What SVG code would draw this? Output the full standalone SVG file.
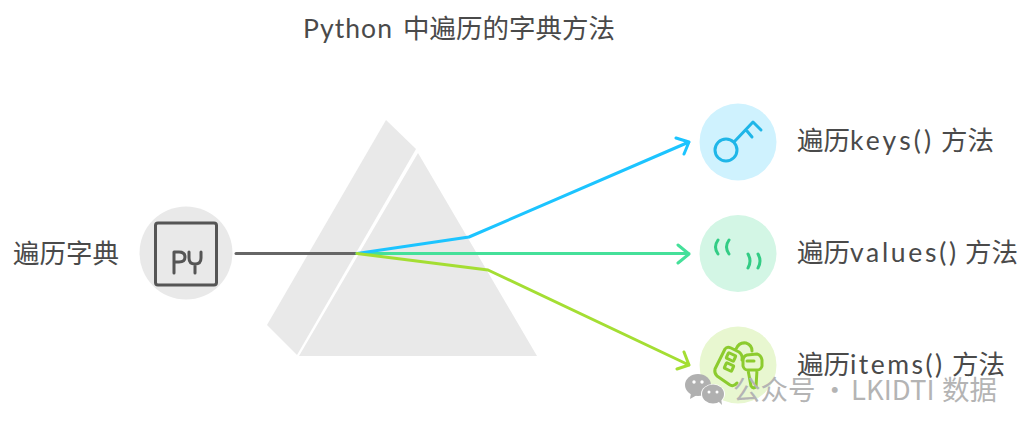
<svg xmlns="http://www.w3.org/2000/svg" width="1029" height="431" viewBox="0 0 1029 431">
<style>
text{font-family:"Noto Sans CJK SC","Noto Sans",sans-serif;font-size:26.500px;fill:#4a4a4a}
.l{font-family:"Lato","Noto Sans CJK SC",sans-serif}
.c{fill:none;stroke-width:3;stroke-linecap:round;stroke-linejoin:round}
.i{fill:none;stroke-width:3;stroke-linecap:round;stroke-linejoin:round}
.wm{fill:#b0b0b0}
text.wt,.wt tspan{fill:#b4b4b4;font-size:27.500px}
</style>
<rect width="1029" height="431" fill="#fff"/>
<g id="title"><text x="303" y="38"><tspan class="l" textLength="89" lengthAdjust="spacing">Python</tspan><tspan x="403">中遍历的字典方法</tspan></text></g>
<g id="prism">
<polygon points="386,120 416,149 297,355 267,325" fill="#e9e9e9"/>
<polygon points="418,153 537,356 299,356" fill="#e9e9e9"/>
</g>
<g id="connectors">
<path class="c" d="M236,253.500H357" stroke="#666"/>
<path class="c" d="M357,253.500H689M678,245L689,254L678,263" stroke="#45e09a"/>
<path class="c" d="M357,253.500L469,237L689,142M676,138L689,142L684,154" stroke="#1cc4ff"/>
<path class="c" d="M357,253.500L488,270L689,365M684,352L689,365L677,369" stroke="#a4de33"/>
</g>
<g id="node-source">
<circle cx="186" cy="253" r="46.500" fill="#e9e9e9"/>
<rect x="155.500" y="223" width="61" height="62" rx="2.500" fill="none" stroke="#555" stroke-width="3"/>
<path class="i" stroke="#555" stroke-width="2.500" d="M174,273V252H179Q185,252 185,257Q185,262 179,262H174M189,252V258Q189,264 195,264Q201,264 201,258V252M195,264V273"/>
<text x="13" y="263">遍历字典</text>
</g>
<g id="node-keys">
<circle cx="738" cy="142" r="38.500" fill="#cff2fe"/>
<circle cx="726" cy="150" r="11" class="i" stroke="#1fb6e8"/>
<path class="i" stroke="#1fb6e8" d="M734,142L753,122L761,130M747,131L752,137"/>
<text x="797" y="150"><tspan>遍历</tspan><tspan class="l" textLength="81">keys()</tspan><tspan x="941">方法</tspan></text>
</g>
<g id="node-values">
<circle cx="738" cy="253.500" r="38.500" fill="#d3f6e5"/>
<path class="i" stroke="#33cc85" d="M718,240Q713,247 718,254M729,240Q724,247 729,254M748,254Q752,261 748,268M758,254Q762,261 758,268"/>
<text x="797" y="262"><tspan>遍历</tspan><tspan class="l" textLength="106">values()</tspan><tspan x="965">方法</tspan></text>
</g>
<g id="node-items">
<circle cx="738" cy="365" r="38.500" fill="#e8f7d0"/>
<path class="i" stroke="#8ccb2e" stroke-width="2.500" d="M725,349L715,369Q714,373 717,376L730,385Q734,387 737,383M725,349Q727,346 731,348L739,352Q743,355 742,360M736,349Q739,342 746,343Q752,345 752,351"/>
<rect x="727" y="354" width="8" height="6" rx="1" transform="rotate(25 731 357)" class="i" stroke="#8ccb2e" stroke-width="2.500"/>
<rect x="725" y="364" width="8" height="6" rx="1" transform="rotate(25 729 367)" class="i" stroke="#8ccb2e" stroke-width="2.500"/>
<path class="i" stroke="#8ccb2e" stroke-width="2.500" d="M747,355Q743,356 743,361V366Q744,370 748,370H757Q761,370 762,366V360Q761,355 757,354ZM748,370L751,386Q753,389 756,387L757,370M747,361H754"/>
<text x="797" y="374"><tspan>遍历</tspan><tspan class="l" textLength="92">items()</tspan><tspan x="952">方法</tspan></text>
</g>
<g id="watermark">
<ellipse cx="698" cy="385" rx="13" ry="11" class="wm"/>
<path class="wm" d="M691,393L690,399L697,395Z"/>
<ellipse cx="713" cy="394" rx="12" ry="10" fill="#fff"/>
<ellipse cx="713" cy="394" rx="11" ry="9.500" class="wm"/>
<path class="wm" d="M718,401L722,405L721,398Z"/>
<circle cx="694" cy="382" r="1.700" fill="#fff"/><circle cx="702" cy="382" r="1.700" fill="#fff"/>
<circle cx="709" cy="392" r="1.500" fill="#fff"/><circle cx="717" cy="392" r="1.500" fill="#fff"/>
<text class="wt" x="733" y="400">公众号<tspan x="821">·</tspan><tspan x="851">LKIDTI</tspan><tspan x="942">数据</tspan></text>
</g>
</svg>
